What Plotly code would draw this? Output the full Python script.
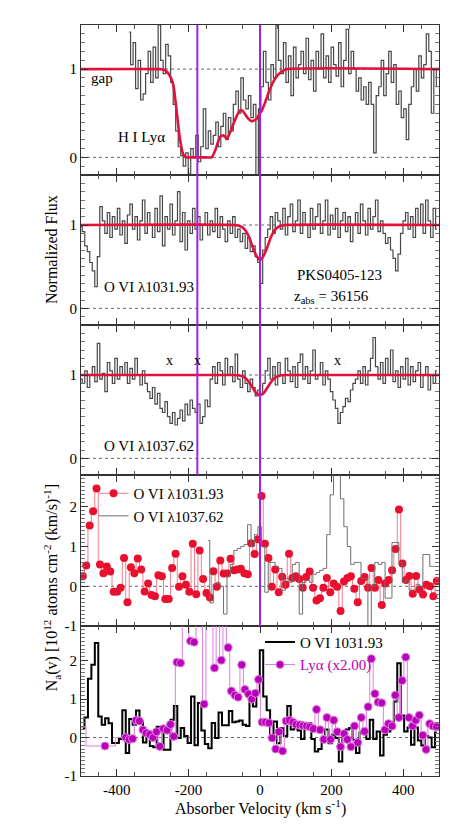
import numpy as np
import plotly.graph_objects as go
from plotly.subplots import make_subplots

# ---------------- data ----------------
# pixel grids (start velocity, bin width in km/s)
hi_v0, hi_dv = -365, 7
ovi_v0, ovi_dv = -500, 7
aod_v0, aod_dv = -495, 9.6
aod2_v0 = -145

hi_flux = [1.42, 1.05, 1.3, 0.78, 1.1, 0.65, 0.72, 0.95, 1.2, 0.85,
           1.25, 0.9, 1.5, 1.1, 0.95, 1.28, 1.15, 0.85, 0.6, 0.3,
           0.12, 0.02, -0.1, 0.05, -0.18, 0.1, 0.0, 0.25, -0.05, 0.12,
           0.55, 0.1, 0.3, 0.15, 0.25, 0.4, 0.12, 0.35, 0.5, 0.2,
           0.45, 0.3, 0.6, 0.75, 0.5, 0.9, 0.65, 0.55, 0.7, 0.45,
           0.6, -0.2, 0.55, 0.8, 1.2, 0.85, 0.65, 1.05, 0.9, 1.5,
           1.1, 0.95, 1.3, 0.85, 1.15, 0.7, 1.25, 0.9, 1.05, 1.2,
           0.95, 1.35, 0.88, 1.1, 0.75, 1.2, 1.0, 1.4, 0.9, 1.15,
           0.85, 1.25, 1.05, 0.92, 1.3, 0.8, 1.1, 1.45, 0.95, 1.2,
           1.0, 0.75, 0.9, 0.65, 0.8, 0.6, 0.85, 0.6, 0.05, 0.7,
           0.8, 1.1, 0.7, 0.95, 1.2, 0.85, 1.05, 0.6, 0.75, 0.45,
           0.55, 0.2, 0.6, 0.8, 1.0, 0.75, 1.15, 0.9, 1.05, 1.4,
           1.2, 0.5, 1.0, 0.8]

ovi1031_flux = [0.98, 0.92, 0.75, 0.68, 0.55, 0.45, 0.26, 0.62, 1.22, 1.05,
                0.9, 1.15, 0.85, 1.1, 0.95, 1.2, 0.88, 1.05, 0.78, 1.12,
                1.25, 0.95, 1.1, 0.82, 1.05, 1.3, 0.9, 1.15, 1.0, 0.85,
                1.2, 0.92, 1.35, 0.75, 1.1, 0.95, 1.25, 0.88, 1.05, 1.4,
                0.8, 1.15, 0.7, 1.05, 0.9, 1.2, 0.95, 1.1, 0.82, 1.0,
                1.15, 0.88, 1.05, 0.92, 1.2, 0.85, 1.1, 0.95, 0.8, 1.05,
                0.9, 1.1, 0.85, 0.95, 0.8, 0.9, 0.72, 0.85, 0.68, 0.75,
                0.62, 0.55, 0.3, 0.7, 0.85, 0.95, 1.1, 0.9, 1.15, 1.05,
                0.95, 1.2, 0.88, 1.1, 1.25, 0.92, 1.05, 1.3, 0.9, 1.15,
                1.0, 0.85, 1.2, 0.95, 1.1, 1.25, 0.9, 1.05, 1.3, 0.88,
                1.12, 0.95, 1.2, 0.85, 1.05, 1.15, 0.92, 1.1, 0.8, 1.0,
                1.15, 0.9, 1.25, 1.05, 0.88, 1.2, 0.95, 1.1, 1.3, 0.92,
                1.05, 0.9, 0.78, 0.85, 0.7, 0.6, 0.45, 0.65, 0.9, 1.05,
                1.15, 0.95, 1.1, 0.85, 1.2, 1.0, 1.25, 0.9, 1.3, 1.05,
                0.85, 1.2, 0.95]

ovi1037_flux = [0.95, 0.9, 1.05, 0.85, 1.0, 1.1, 0.92, 1.38, 0.95, 1.02,
                0.8, 1.15, 1.05, 0.9, 1.2, 0.95, 1.1, 1.0, 1.15, 0.9,
                1.08, 0.95, 1.2, 1.0, 0.88, 1.05, 0.9, 0.8, 0.72, 0.85,
                0.65, 0.78, 0.6, 0.55, 0.68, 0.5, 0.42, 0.55, 0.4, 0.48,
                0.58, 0.45, 0.65, 0.52, 0.7, 0.6, 0.55, 0.65, 0.42, 0.5,
                0.7, 0.62, 0.95, 1.1, 0.9, 1.15, 1.05, 0.88, 1.2, 1.0,
                1.1, 0.92, 1.25, 0.95, 0.85, 1.05, 0.9, 0.8, 0.95, 0.85,
                0.75, 0.82, 0.78, 0.9, 1.05, 1.2, 0.95, 1.1, 0.88, 1.15,
                1.0, 0.9, 1.2, 1.05, 0.92, 1.1, 0.85, 1.15, 1.25, 0.95,
                1.1, 0.9, 1.05, 1.3, 0.95, 1.0, 1.15, 0.88, 1.05, 0.95,
                0.8, 0.7, 0.6, 0.42, 0.55, 0.62, 0.72, 0.68, 0.82, 0.9,
                0.95, 1.05, 0.9, 1.1, 0.88, 1.05, 1.2, 1.45, 1.1, 0.95,
                1.15, 0.9, 1.2, 1.0, 1.3, 0.92, 1.05, 0.85, 1.1, 0.95,
                1.2, 0.88, 1.1, 0.92, 1.05, 1.15, 0.85, 1.0, 1.1, 0.82,
                1.0, 0.9, 1.05]

hi_fit_v = [-500, -280, -270, -260, -250, -242, -233, -223, -214, -205, -190,
            -150, -135, -125, -112, -102, -93, -84, -74, -65, -56, -49, -42, -33,
            -23, -16, -9, 0, 5, 14, 23, 35, 47, 60, 75, 500]
hi_fit = [1.0, 1.0, 0.995, 0.97, 0.91, 0.82, 0.53, 0.19, 0.03, 0.0, 0.0,
          0.0, 0.0, 0.08, 0.23, 0.25, 0.21, 0.28, 0.38, 0.47, 0.53, 0.53, 0.49,
          0.44, 0.41, 0.42, 0.44, 0.5, 0.53, 0.62, 0.72, 0.84, 0.92, 0.97, 1.0, 1.0]

ovi_fit_v = [-500, -70, -60, -50, -40, -30, -20, -10, 0, 10, 20, 30, 40, 50, 60, 70, 500]
ovi1031_fit = [1, 1, 0.99, 0.975, 0.93, 0.85, 0.73, 0.63, 0.58, 0.63, 0.73, 0.85, 0.93, 0.975, 0.99, 1, 1]
ovi1037_fit = [1, 1, 0.996, 0.985, 0.96, 0.91, 0.845, 0.78, 0.76, 0.78, 0.845, 0.91, 0.96, 0.985, 0.996, 1, 1]

na_1031 = [0.25, 0.52, 1.53, 1.89, 2.46, 0.55, 0.33, 0.5, 0.37, -0.14,
           -0.14, -0.04, 0.71, -0.4, 0.48, 0.33, 0.7, 0.42, -0.13, 0.07,
           -0.22, -0.25, 0.28, 0.25, -0.32, -0.32, 0.46, 0.82, -0.01, 0.25,
           0.04, -0.14, 1.07, -0.2, 0.9, 0.18, -0.17, -0.28, 0.38, -0.01,
           0.65, 0.32, 0.32, 0.69, 0.4, 0.42, 0.44, 0.33, 0.3, 1.08,
           0.81, 1.18, 2.27, 1.07, 0.71, -0.01, 0.42, -0.15, 0.24, 0.04,
           0.82, 0.21, 0.25, 0.18, -0.04, 0.23, 0.37, -0.04, -0.36, -0.3,
           -0.04, 0.21, -0.15, 0.07, -0.01, -0.62, 0.12, 0.21, 0.25, -0.06,
           -0.4, 0.13, 0.23, -0.04, 0.46, -0.04, 0.16, -0.47, 0.07, 0.16,
           0.4, 0.94, 1.93, 0.57, 0.16, 0.26, -0.19, 0.26, -0.08, -0.21,
           0.04, 0.0, -0.25, 0.13]

na_1037 = [1.15, -0.42, 0.05, 0.1, 0.0, -0.7, 0.25, 0.55, 0.9, 0.95,
           1.0, 1.05, 1.55, 1.0, 1.3, 1.5, 1.0, -0.15, 0.6, 0.6,
           0.5, 0.45, -0.1, 0.2, 0.1, 0.55, 0.6, -0.7, 0.1, 0.15,
           0.1, 0.3, 0.35, 0.4, 0.45, 1.3, 2.3, 3.0, 2.9, 2.2,
           1.5, 1.0, 0.55, 0.6, 0.6, 0.2, 0.2, -1.3, 0.0, 0.6,
           0.55, 0.6, -0.3, -0.3, 1.1, 1.1, 0.6, 0.1, 0.15, -0.1,
           -0.1, 0.05, 0.0, 0.8, 0.8, 0.5, 0.5]

ha_v = [-505, -467, -433, -375, -366, -356, -346, -337, -327, -318, -308, -299,
        -289, -280, -270, -260, -250, -241, -232, -222, -212, -203, -194, -184,
        -174, -165, -156, -146, -136, -127, -118, -108, -99, -89, -80, -70, -61,
        -51, -42, -32, -23, -13, -4, 6, 15, 25, 34, 44, 53, 63, 73, 82, 92, 101,
        111, 120, 130, 139, 149, 158, 168, 178, 187, 197, 206, 216, 225, 235, 244,
        254, 264, 273, 283, 292, 302, 311, 321, 330, 340, 349, 359, 369, 378, 388,
        397, 407, 416, 426, 435, 445, 455, 464, 474, 483, 493]
na_ha = [0.27, -0.22, -0.22, 0.0, -0.05, -0.03, 0.45, 0.43, 0.2, 0.12, 0.08, 0.0,
         0.15, -0.23, 0.23, 0.19, 0.34, 0.03, 1.96, 1.94, 5, 5, 2.51, 2.48,
         5, 5, 0.87, 5, 5, 1.81, 5, 2.01, 5, 2.34, 1.21, 1.1, 1.05,
         1.89, 1.25, 1.13, 1.0, 1.15, 1.51, 0.4, 0.4, 0.38, -0.01, -0.3, 0.15, -0.35, 0.43, 0.45, 0.4, 0.34,
         0.33, 0.31, 0.3, 0.28, 0.23, 0.73, 0.2, -0.05, 0.52, -0.05, 0.45, 0.15, -0.24, 0.1, -0.05,
         -0.24, 0.3, -0.13, 0.52, 0.16, 0.8, 2.05, 1.14, 0.92, 0.9, 0.2, 0.36, 0.3, 1.1, 0.52,
         1.48, 2.09, 0.52, 0.3, 0.45, 0.58, 0.06, -0.31, 0.36, 0.3, 0.28]
ha_gap_points = 2   # leading points inside the spectral gap (drawn without dots)

comp_v = [-175, 0]   # component velocities marked by vertical lines

# ---------------- figure ----------------
SERIF = "Liberation Serif"
FIT_RED = "#e2103a"
PURPLE = "#a61ee6"
DOT_RED = "#e8102e"
MAG = "#b800b8"

hi_v = hi_v0 + hi_dv * np.arange(len(hi_flux))
ovi_v = ovi_v0 + ovi_dv * np.arange(len(ovi1031_flux))
aod_v = aod_v0 + aod_dv * np.arange(len(na_1031))
aod2_v = aod2_v0 + aod_dv * np.arange(len(na_1037))

fig = make_subplots(rows=5, cols=1, shared_xaxes=True, vertical_spacing=0,
                    row_heights=[150, 150, 150, 151, 150])

spec_line = dict(color="#484848", width=1.2, shape="hvh")
fit_line = dict(color=FIT_RED, width=2.6, shape="spline", smoothing=0.5)

# panel 1: H I
fig.add_trace(go.Scatter(x=hi_v, y=hi_flux, mode="lines", line=spec_line, showlegend=False), 1, 1)
fig.add_trace(go.Scatter(x=hi_fit_v, y=hi_fit, mode="lines", line=fit_line, showlegend=False), 1, 1)
# panel 2: O VI 1031
fig.add_trace(go.Scatter(x=ovi_v, y=ovi1031_flux, mode="lines", line=spec_line, showlegend=False), 2, 1)
fig.add_trace(go.Scatter(x=ovi_fit_v, y=ovi1031_fit, mode="lines", line=fit_line, showlegend=False), 2, 1)
# panel 3: O VI 1037
fig.add_trace(go.Scatter(x=ovi_v, y=ovi1037_flux, mode="lines", line=spec_line, showlegend=False), 3, 1)
fig.add_trace(go.Scatter(x=ovi_fit_v, y=ovi1037_fit, mode="lines", line=fit_line, showlegend=False), 3, 1)

# panel 4: AOD comparison
fig.add_trace(go.Scatter(x=aod_v, y=na_1031, mode="lines+markers", name="O VI λ1031.93",
                         line=dict(color="#f27c8c", width=1, shape="hvh"),
                         marker=dict(color=DOT_RED, size=8), legend="legend"), 4, 1)
fig.add_trace(go.Scatter(x=aod2_v, y=na_1037, mode="lines", name="O VI λ1037.62",
                         line=dict(color="#6e6e6e", width=1, shape="hvh"), legend="legend"), 4, 1)

# panel 5: O VI vs Ly alpha
fig.add_trace(go.Scatter(x=aod_v, y=na_1031, mode="lines", name="O VI 1031.93",
                         line=dict(color="black", width=2, shape="hvh"), legend="legend2"), 5, 1)
ha_sizes = [0] * ha_gap_points + [8] * (len(na_ha) - ha_gap_points)
fig.add_trace(go.Scatter(x=ha_v, y=na_ha, mode="lines+markers",
                         name="<span style='color:%s'>Lyα (x2.00)</span>" % MAG,
                         line=dict(color="#e07ee0", width=1, shape="hvh"),
                         marker=dict(color=MAG, size=ha_sizes, opacity=1), legend="legend2"), 5, 1)

# reference lines
dot = dict(color="#666666", width=1, dash="dot")
for r in (1, 2, 3):
    fig.add_hline(y=0, line=dot, row=r, col=1, layer="below")
    fig.add_hline(y=1, line=dot, row=r, col=1, layer="below")
for r in (4, 5):
    fig.add_hline(y=0, line=dot, row=r, col=1, layer="below")

# axes
yranges = [[-0.2, 1.5], [-0.2, 1.6], [-0.2, 1.6], [-1, 2.8], [-1, 2.9]]
for i in range(1, 6):
    fig.update_xaxes(range=[-500, 500], tickvals=[-400, -200, 0, 200, 400],
                     ticktext=["-400", "-200", "0", "200", "400"],
                     ticks="inside", ticklen=7, tickcolor="#333", showline=True,
                     linecolor="#333", linewidth=1, mirror="ticks", showgrid=False,
                     zeroline=False,
                     minor=dict(tickvals=list(range(-450, 500, 100)), ticks="inside",
                                ticklen=4, tickcolor="#555"),
                     tickfont=dict(family=SERIF, size=15, color="black"), row=i, col=1)
    if i <= 3:
        tv, tt, mv = [0, 0.5, 1], ["0", "", "1"], [round(-0.1 + 0.1 * k, 2) for k in range(17)]
    else:
        tv, tt = [-1, -0.5, 0, 0.5, 1, 1.5, 2, 2.5], ["-1", "", "0", "", "1", "", "2", ""]
        mv = [round(-1 + 0.1 * k, 2) for k in range(39)]
    fig.update_yaxes(range=yranges[i - 1], tickvals=tv, ticktext=tt, ticks="inside",
                     ticklen=7, tickcolor="#333", showline=True, linecolor="#333",
                     linewidth=1, mirror="ticks", showgrid=False, zeroline=False,
                     minor=dict(tickvals=mv, ticks="inside", ticklen=4, tickcolor="#777"),
                     tickfont=dict(family=SERIF, size=15, color="black"), row=i, col=1)

# component lines spanning panels
dom1 = fig.layout.yaxis.domain
dom3 = fig.layout.yaxis3.domain
dom4 = fig.layout.yaxis4.domain
fig.add_shape(type="line", xref="x", yref="paper", x0=comp_v[0], x1=comp_v[0],
              y0=dom3[0], y1=dom1[1], line=dict(color=PURPLE, width=2))
fig.add_shape(type="line", xref="x", yref="paper", x0=comp_v[1], x1=comp_v[1],
              y0=dom4[0], y1=dom1[1], line=dict(color=PURPLE, width=2))

# annotations
def txt(x, y, s, xref, yref, size=15, color="black", **kw):
    fig.add_annotation(x=x, y=y, text=s, xref=xref, yref=yref, showarrow=False,
                       xanchor="center", yanchor="middle",
                       font=dict(family=SERIF, size=size, color=color), **kw)

txt(-440, 0.9, "gap", "x", "y")
txt(-330, 0.23, "H I Lyα", "x", "y")
txt(-310, 0.26, "O VI λ1031.93", "x2", "y2")
txt(223, 0.4, "PKS0405-123", "x2", "y2")
txt(200, 0.14, "z<sub>abs</sub> = 36156", "x2", "y2")
txt(-310, 0.15, "O VI λ1037.62", "x3", "y3")
for xv in (-253, -175, 216):
    txt(xv, 1.17, "x", "x3", "y3", size=14)

txt(-0.081, 0.7004, "Normalized Flux", "paper", "paper", size=16, textangle=-90)
txt(-0.081, 0.25, "N<sub>a</sub>(v) [10<sup>12</sup> atoms cm<sup>-2</sup> (km/s)<sup>-1</sup>]",
    "paper", "paper", size=16, textangle=-90)
txt(0.5, -0.0426, "Absorber Velocity (km s<sup>-1</sup>)", "paper", "paper", size=16)

leg_common = dict(bgcolor="rgba(0,0,0,0)", font=dict(family=SERIF, size=15, color="black"),
                  xanchor="left", yanchor="top", itemwidth=30, tracegroupgap=0)
# the page adds an 8px body margin, so the figure is 8px smaller than the window
fig.update_layout(
    width=455, height=820,
    margin=dict(l=73, r=24, t=17, b=52),
    paper_bgcolor="white", plot_bgcolor="white",
    legend=dict(x=0.035, y=0.398, **leg_common),
    legend2=dict(x=0.50, y=0.2, **leg_common),
    font=dict(family=SERIF, color="black"),
)

fig.write_html("out.html")
